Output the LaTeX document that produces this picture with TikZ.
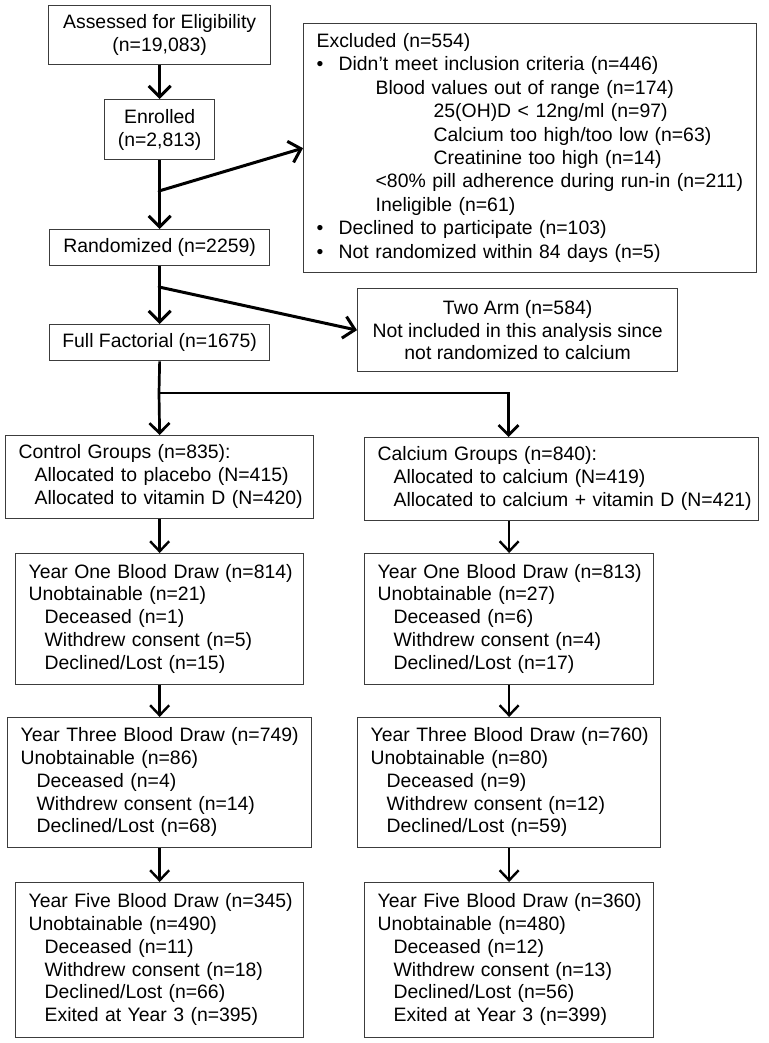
\documentclass[tikz,border=0pt]{standalone}
\usepackage{fontspec}
\setmainfont{Liberation Sans}
\usetikzlibrary{arrows.meta}
\definecolor{boxgray}{HTML}{3C3C3C}
\newcommand\boxfont{\fontsize{19.4pt}{22.8pt}\selectfont}
\newcommand\exfont{\fontsize{19.4pt}{23.4pt}\selectfont}
\newcommand\rows[1]{\noindent\begin{tabular}{@{}l@{}}#1\end{tabular}}
\newcommand\ind{\hspace*{16pt}}
\newcommand\bul{\makebox[22pt][l]{•}}
\begin{document}
\begin{tikzpicture}[x=1pt,y=-1pt,
  box/.style={draw=boxgray, line width=1.3pt, inner ysep=0pt, anchor=north west, font=\boxfont},
  cbox/.style={box, inner xsep=0pt, align=center},
  lbox/.style={box, inner xsep=13pt, align=left},
  arrA/.style={line width=3pt, -{Straight Barb[length=11pt,width=22pt]}},
  arrB/.style={line width=2.7pt, -{Straight Barb[length=10pt,width=20pt]}},
  arrC/.style={line width=2.4pt, -{Straight Barb[length=10pt,width=19pt]}}]
\useasboundingbox (0,0) rectangle (768,1043);

% top column
\node[cbox, minimum width=222pt, minimum height=59pt] (assess) at (48,5) {Assessed for Eligibility\\(n=19,083)};
\node[cbox, minimum width=110pt, minimum height=60pt] (enroll) at (104,99) {Enrolled\\(n=2,813)};
\node[cbox, minimum width=220pt, minimum height=36pt] (rand) at (49,229) {Randomized (n=2259)};
\node[cbox, minimum width=220pt, minimum height=36pt] (ff) at (49,324) {Full Factorial (n=1675)};

% side boxes
\node[lbox, font=\exfont, text width=427pt, minimum height=249pt] (excl) at (303,23) {\rows{Excluded (n=554)\\
\bul Didn’t meet inclusion criteria (n=446)\\
\hspace*{59pt}Blood values out of range (n=174)\\
\hspace*{117pt}25(OH)D < 12ng/ml (n=97)\\
\hspace*{117pt}Calcium too high/too low (n=63)\\
\hspace*{117pt}Creatinine too high (n=14)\\
\hspace*{59pt}<80\% pill adherence during run-in (n=211)\\
\hspace*{59pt}Ineligible (n=61)\\
\bul Declined to participate (n=103)\\
\bul Not randomized within 84 days (n=5)}};
\node[cbox, minimum width=320pt, minimum height=83pt] (twoarm) at (357,288) {Two Arm (n=584)\\Not included in this analysis since\\not randomized to calcium};

% groups
\node[lbox, text width=282pt, minimum height=83pt] (control) at (5,435) {\rows{Control Groups (n=835):\\
\ind Allocated to placebo (N=415)\\
\ind Allocated to vitamin D (N=420)}};
\node[lbox, text width=368pt, minimum height=83pt] (calcium) at (364,437) {\rows{Calcium Groups (n=840):\\
\ind Allocated to calcium (N=419)\\
\ind Allocated to calcium + vitamin D (N=421)}};

% year one
\node[lbox, text width=262pt, minimum height=131pt] (y1L) at (15,553) {\rows{Year One Blood Draw (n=814)\\
Unobtainable (n=21)\\
\ind Deceased (n=1)\\
\ind Withdrew consent (n=5)\\
\ind Declined/Lost (n=15)}};
\node[lbox, text width=263pt, minimum height=131pt] (y1R) at (364,553) {\rows{Year One Blood Draw (n=813)\\
Unobtainable (n=27)\\
\ind Deceased (n=6)\\
\ind Withdrew consent (n=4)\\
\ind Declined/Lost (n=17)}};

% year three
\node[lbox, text width=278pt, minimum height=130pt] (y3L) at (7,717) {\rows{Year Three Blood Draw (n=749)\\
Unobtainable (n=86)\\
\ind Deceased (n=4)\\
\ind Withdrew consent (n=14)\\
\ind Declined/Lost (n=68)}};
\node[lbox, text width=277pt, minimum height=130pt] (y3R) at (357,717) {\rows{Year Three Blood Draw (n=760)\\
Unobtainable (n=80)\\
\ind Deceased (n=9)\\
\ind Withdrew consent (n=12)\\
\ind Declined/Lost (n=59)}};

% year five
\node[lbox, text width=262pt, minimum height=155pt] (y5L) at (15,882) {\rows{Year Five Blood Draw (n=345)\\
Unobtainable (n=490)\\
\ind Deceased (n=11)\\
\ind Withdrew consent (n=18)\\
\ind Declined/Lost (n=66)\\
\ind Exited at Year 3 (n=395)}};
\node[lbox, text width=263pt, minimum height=155pt] (y5R) at (364,882) {\rows{Year Five Blood Draw (n=360)\\
Unobtainable (n=480)\\
\ind Deceased (n=12)\\
\ind Withdrew consent (n=13)\\
\ind Declined/Lost (n=56)\\
\ind Exited at Year 3 (n=399)}};

% junctions
\coordinate (j1) at (159,191);
\coordinate (j2) at (159,287);
\coordinate (j3) at (159,393);
\coordinate (j4) at (508.5,393);

% connectors
\draw[arrA] (assess.south) -- (enroll.north);
\draw[arrA] (enroll.south) -- (rand.north);
\draw[arrA, line cap=round] (j1) -- (excl.west);
\draw[arrA] (rand.south) -- (ff.north);
\draw[arrA, line cap=round] (j2) -- (twoarm.west);
\draw[arrB] (ff.south) -- (j3) -- (control.north);
\draw[arrB] (j3) -- (j4) -- (j4 |- calcium.north);
\draw[arrC] (control.south) -- (y1L.north);
\draw[arrC] (y1R.north |- calcium.south) -- (y1R.north);
\draw[arrC] (y1L.south) -- (y3L.north);
\draw[arrC] (y1R.south) -- (y3R.north);
\draw[arrC] (y3L.south) -- (y5L.north);
\draw[arrC] (y3R.south) -- (y5R.north);
\end{tikzpicture}
\end{document}
